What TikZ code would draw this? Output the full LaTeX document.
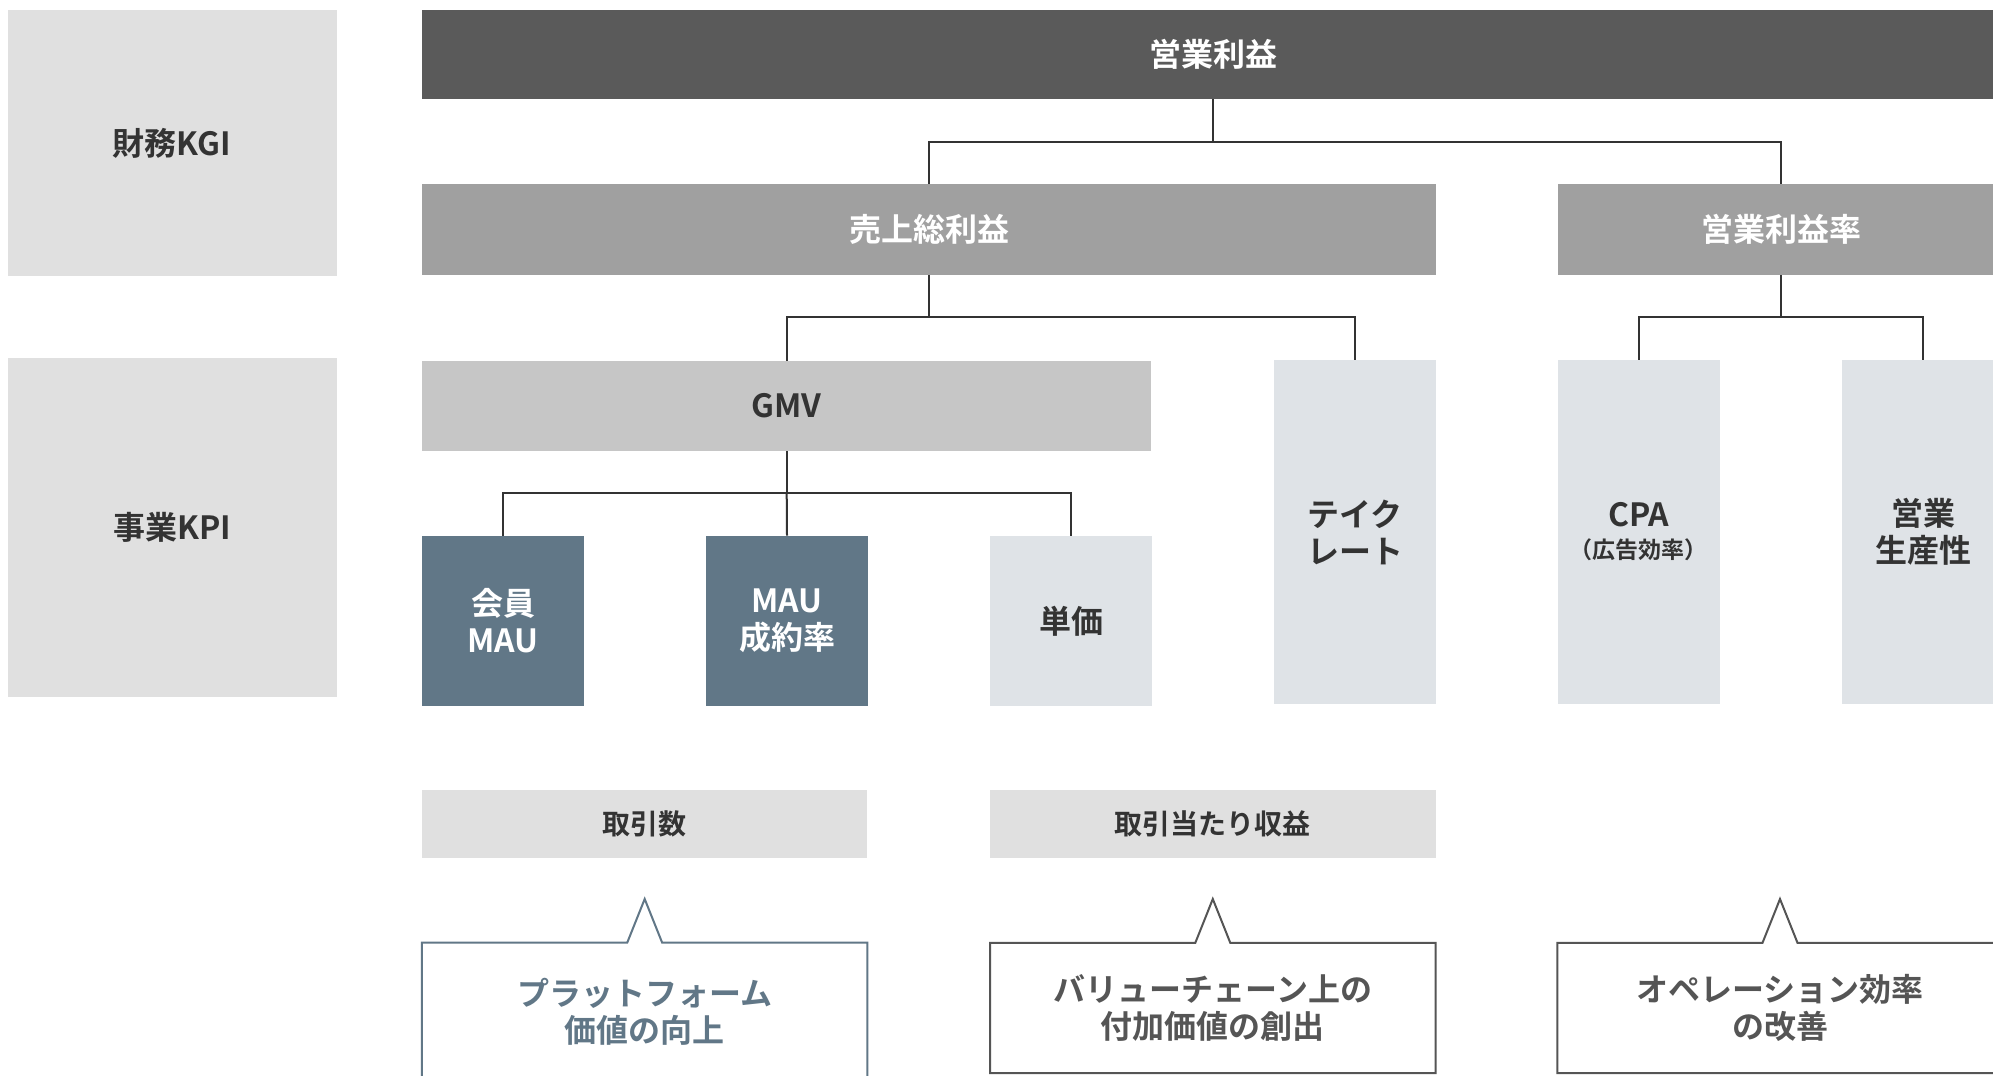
\documentclass[tikz,border=0pt]{standalone}
\usepackage{fontspec}
\setmainfont{Noto Sans CJK JP}[BoldFont={Noto Sans CJK JP Bold}]
\usetikzlibrary{shapes.callouts}

\definecolor{kgigray}{HTML}{E0E0E0}
\definecolor{topgray}{HTML}{5A5A5A}
\definecolor{midgray}{HTML}{A0A0A0}
\definecolor{gmvgray}{HTML}{C6C6C6}
\definecolor{slate}{HTML}{617787}
\definecolor{pale}{HTML}{DFE3E7}
\definecolor{inkgray}{HTML}{333333}
\definecolor{memogray}{HTML}{555555}

\tikzset{
  box/.style={rectangle,inner sep=0pt,align=center,text=inkgray,
    font=\fontsize{16}{18.5}\selectfont\bfseries},
  tallbox/.style={box,fill=pale,minimum width=81pt,minimum height=172pt},
  kpibox/.style={box,minimum width=81pt,minimum height=85pt},
  groupbox/.style={box,fill=kgigray,minimum width=222.75pt,minimum height=34pt,
    font=\fontsize{14}{16}\selectfont\bfseries},
  link/.style={draw=inkgray,line width=1pt},
  memo/.style={box,rectangle callout,fill=white,line width=1pt,
    callout pointer width=17.5pt,minimum width=222.75pt}
}

\begin{document}
\begin{tikzpicture}[x=0.5pt,y=-0.5pt]
\useasboundingbox (0,0) rectangle (1993,1076);

% left labels
\node[box,fill=kgigray,minimum width=164.5pt,minimum height=133pt] (kgi) at (172,143) {財務KGI};
\node[box,fill=kgigray,minimum width=164.5pt,minimum height=169.5pt] (kpi) at (172,527.5) {事業KPI};

% KGI tree
\node[box,fill=topgray,text=white,minimum width=791pt,minimum height=44.5pt] (op) at (1213,54.5) {営業利益};
\node[box,fill=midgray,text=white,minimum width=507pt,minimum height=45.5pt] (gp) at (929,229.5) {売上総利益};
\node[box,fill=midgray,text=white,minimum width=223pt,minimum height=45.5pt] (opm) at (1781,229.5) {営業利益率};

% KPI tree
\node[box,fill=gmvgray,minimum width=364.75pt,minimum height=45pt] (gmv) at (786.7,406) {GMV};
\node[tallbox] (take) at (1355,532) {テイク\\レート};
\node[tallbox] (cpa) at (1638.7,532) {CPA\\[-2.5pt]{\fontsize{11.5}{13}\selectfont （広告効率）}};
\node[tallbox] (prod) at (1923,532) {営業\\生産性};
\node[kpibox,fill=slate,text=white] (mau) at (503,621) {会員\\MAU};
\node[kpibox,fill=slate,text=white] (cvr) at (787,621) {MAU\\成約率};
\node[kpibox,fill=pale] (price) at (1071,621) {単価};

% groups
\node[groupbox] (deals) at (644.7,824) {取引数};
\node[groupbox] (rev) at (1212.8,824) {取引当たり収益};

% connectors
\coordinate (j1) at (1213,141.7);
\coordinate (j2) at (929,317);
\coordinate (j3) at (1781,317);
\coordinate (j4) at (786.7,493);
\draw[link] (op.south) -- (j1);
\draw[link] (gp.north) |- (j1) -| (opm.north);
\draw[link] (gp.south) -- (j2);
\draw[link] (gmv.north) |- (j2) -| (take.north);
\draw[link] (opm.south) -- (j3);
\draw[link] (cpa.north) |- (j3) -| (prod.north);
\draw[link] (gmv.south) -- (j4);
\draw[link] (mau.north) |- (j4) -| (price.north);
\draw[link] (j4) -- (cvr.north);

% callouts
\coordinate (t1) at (644.7,899);
\coordinate (t2) at (1212.8,899);
\coordinate (t3) at (1780,899);
\node[memo,draw=slate,text=slate,minimum height=69.15pt,callout absolute pointer=(t1)] (memo1) at (644.7,1011.85) {プラットフォーム\\価値の向上};
\node[memo,draw=memogray,text=memogray,minimum height=65.15pt,callout absolute pointer=(t2)] (memo2) at (1212.8,1008) {バリューチェーン上の\\付加価値の創出};
\node[memo,draw=memogray,text=memogray,minimum height=65.15pt,callout absolute pointer=(t3)] (memo3) at (1780,1008) {オペレーション効率\\の改善};
\end{tikzpicture}
\end{document}
